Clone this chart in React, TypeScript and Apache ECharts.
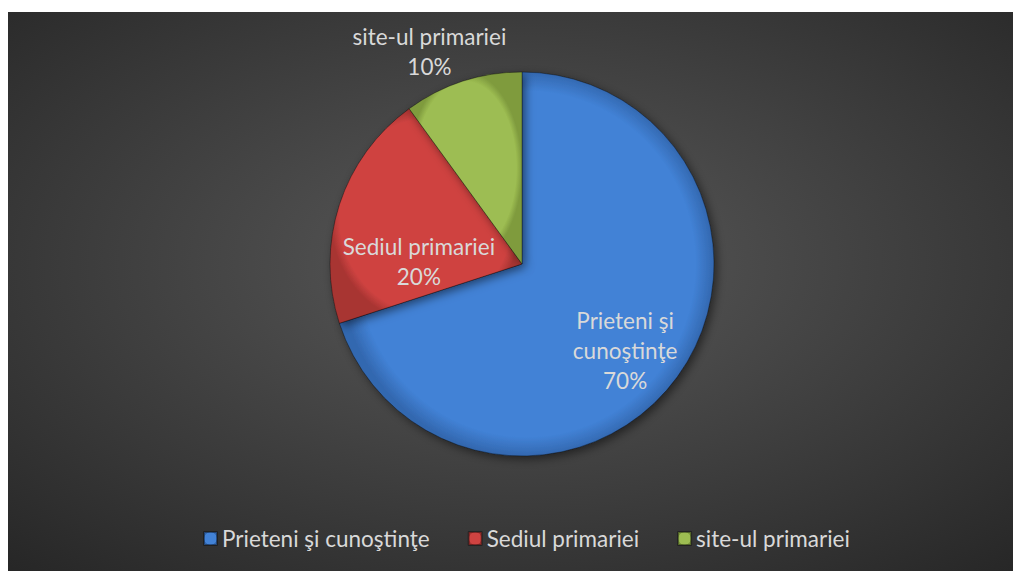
import React, { useEffect, useRef } from "react";
import * as echarts from "echarts";

const categories = ["Prieteni şi cunoştinţe", "Sediul primariei", "site-ul primariei"];
const labelTexts = ["Prieteni şi\ncunoştinţe", "Sediul primariei", "site-ul primariei"];
const values = [70, 20, 10];
const colors = ["#4282d6", "#cf4341", "#9dbd52"];
const darkColors = ["#3368b0", "#a83432", "#7f9b3e"];
const labelOffsets: [number, number][] = [
  [23, 28],
  [-9, 28],
  [-62, -118],
];

export default function App() {
  const ref = useRef<HTMLDivElement>(null);
  useEffect(() => {
    if (!ref.current) return;
    const chart = echarts.init(ref.current, undefined, { renderer: "svg" });
    const font = "Lato, 'Noto Sans', sans-serif";
    chart.setOption({
      animation: false,
      backgroundColor: {
        type: "radial",
        x: 0.5,
        y: 0.45,
        r: 0.75,
        colorStops: [
          { offset: 0, color: "#5a5a5a" },
          { offset: 1, color: "#262626" },
        ],
      },
      legend: {
        bottom: 16,
        left: 190,
        itemWidth: 13,
        itemHeight: 13,
        itemGap: 38,
        icon: "rect",
        textStyle: { color: "#d9d9d9", fontSize: 22.5, fontFamily: font },
        data: categories,
      },
      series: [
        {
          type: "pie",
          center: [514, 252],
          radius: 192,
          startAngle: 90,
          clockwise: true,
          avoidLabelOverlap: false,
          labelLine: { show: false },
          data: categories.map((name, i) => ({
            name,
            value: values[i],
            itemStyle: {
              color: {
                type: "radial",
                x: 0.5,
                y: 0.5,
                r: 0.5,
                colorStops: [
                  { offset: 0, color: colors[i] },
                  { offset: 0.9, color: colors[i] },
                  { offset: 1, color: darkColors[i] },
                ],
              },
              borderColor: "rgba(0,0,0,0.35)",
              borderWidth: 1,
              shadowBlur: 10,
              shadowOffsetX: 3,
              shadowOffsetY: 3,
              shadowColor: "rgba(0,0,0,0.5)",
            },
            label: {
              show: true,
              position: "inside",
              offset: labelOffsets[i],
              formatter: () => `${labelTexts[i]}\n${values[i]}%`,
              color: "#d9d9d9",
              fontSize: 22.5,
              lineHeight: 30,
              fontFamily: font,
              align: "center",
            },
          })),
        },
      ],
    });
    return () => chart.dispose();
  }, []);
  return <div ref={ref} style={{ width: 1013, height: 559, marginTop: 4 }} />;
}
